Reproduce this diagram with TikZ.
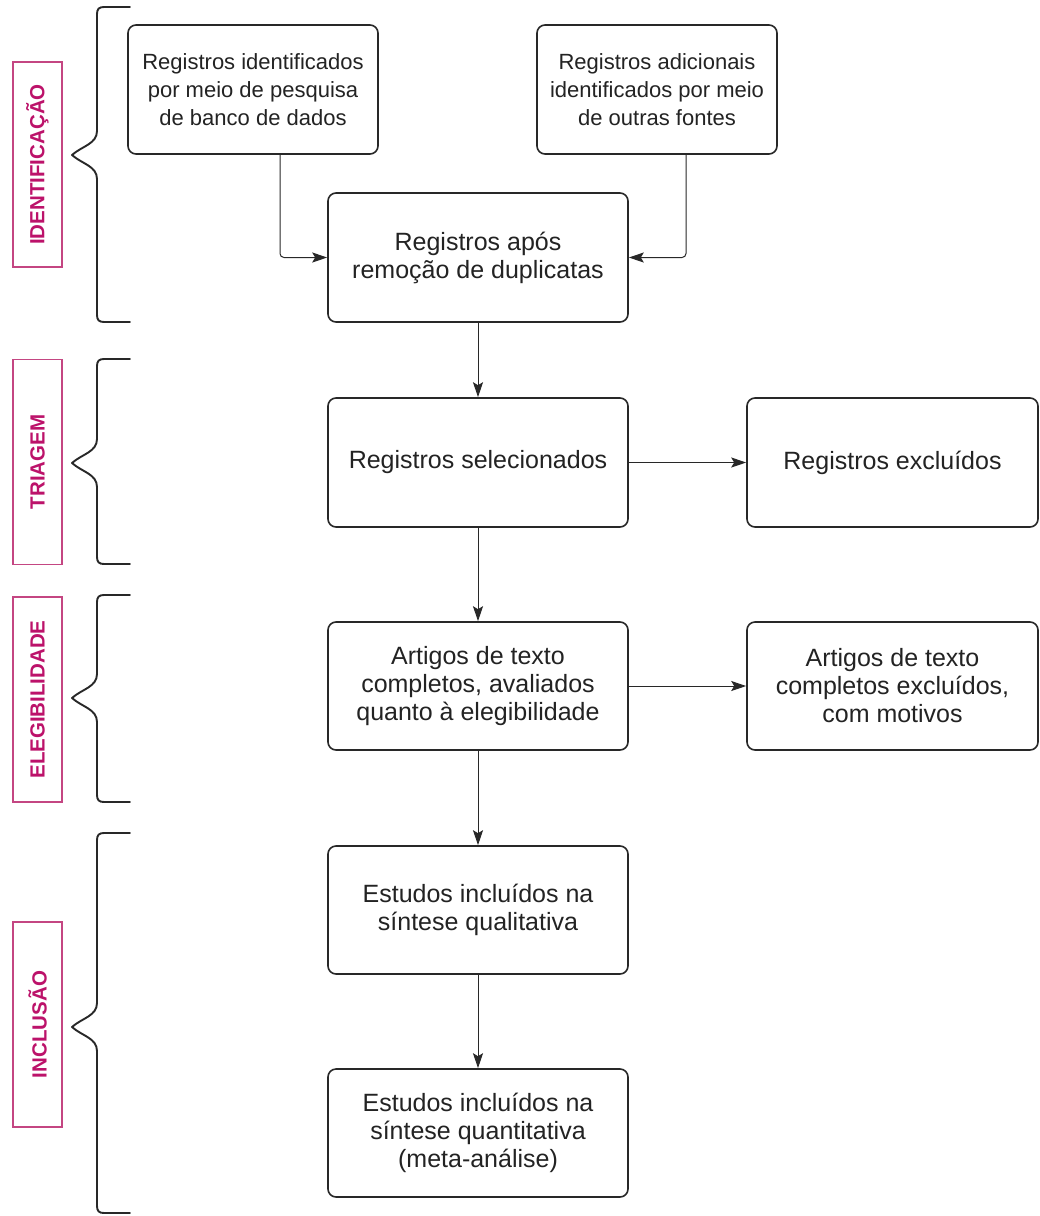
\documentclass[tikz,border=0pt]{standalone}
\usepackage{fontspec}
\setmainfont{Liberation Sans}
\usetikzlibrary{arrows.meta}
\definecolor{pinkt}{RGB}{188,18,106}
\definecolor{pinkb}{RGB}{196,70,130}
\definecolor{boxc}{RGB}{40,40,40}
\definecolor{txtc}{RGB}{35,35,35}
\tikzset{
  flowbox/.style={draw=boxc, line width=1.6pt, rounded corners=8pt, align=center,
    font=\fontsize{25}{28}\selectfont, text=txtc, inner sep=0pt, minimum height=129pt},
  smalltext/.style={font=\fontsize{22}{28}\selectfont},
  phase/.style={draw=pinkb, line width=1.5pt, text=pinkt, font=\bfseries\fontsize{20.5}{24}\selectfont,
    rotate=90, minimum width=205pt, minimum height=49pt, inner sep=0pt},
  arr/.style={-{Stealth[length=15pt,width=10pt,inset=3pt]}, line width=1pt, draw=boxc, rounded corners=4pt},
  bracepath/.style={line width=1.9pt, draw=boxc, line cap=round, line join=round}
}
\newcommand\phasebrace[3]{%
  \draw[bracepath] (130,#1) -- (104,#1) .. controls (99,#1) and (97,#1+2) .. (97,#1+7)
    -- (97,#3-24) .. controls (97,#3-11) and (82,#3-9) .. (72,#3)
    .. controls (82,#3+9) and (97,#3+11) .. (97,#3+24)
    -- (97,#2-7) .. controls (97,#2-2) and (99,#2) .. (104,#2) -- (130,#2);}
\begin{document}
\begin{tikzpicture}[x=1pt,y=-1pt]
\useasboundingbox[fill=white] (0,0) rectangle (1040,1216);

% phase labels
\node[phase] (lid) at (37.5,164.5) {IDENTIFICAÇÃO};
\node[phase] (ltr) at (37.5,462) {TRIAGEM};
\node[phase] (lel) at (37.5,699.5) {ELEGIBILIDADE};
\node[phase] (lin) at (37.5,1024.5) {INCLUSÃO};

% braces
\phasebrace{7}{322}{155}
\phasebrace{359}{564}{463}
\phasebrace{595}{802}{698}
\phasebrace{833}{1213}{1027}

% boxes
\node[flowbox, smalltext, minimum width=250pt] (A) at (253,89.5) {Registros identificados\\por meio de pesquisa\\de banco de dados};
\node[flowbox, smalltext, minimum width=240pt] (B) at (657,89.5) {Registros adicionais\\identificados por meio\\de outras fontes};
\node[flowbox, minimum width=300pt] (C) at (478,257.5) {Registros após\\remoção de duplicatas};
\node[flowbox, minimum width=300pt] (D) at (478,462.5) {Registros selecionados};
\node[flowbox, minimum width=291pt] (E) at (892.5,462.5) {Registros excluídos};
\node[flowbox, minimum width=300pt, minimum height=128pt] (F) at (478,686) {Artigos de texto\\completos, avaliados\\quanto à elegibilidade};
\node[flowbox, minimum width=291pt, minimum height=128pt] (G) at (892.5,686) {Artigos de texto\\completos excluídos,\\com motivos};
\node[flowbox, minimum width=300pt, minimum height=128pt] (H) at (478,910) {Estudos incluídos na\\síntese qualitativa};
\node[flowbox, minimum width=300pt, minimum height=128pt] (I) at (478,1133) {Estudos incluídos na\\síntese quantitativa\\(meta-análise)};

% connectors
\draw[arr] ([xshift=27pt]A.south) |- (C.west);
\draw[arr] ([xshift=29pt]B.south) |- (C.east);
\draw[arr] (C.south) -- (D.north);
\draw[arr] (D.east) -- (E.west);
\draw[arr] (D.south) -- (F.north);
\draw[arr] (F.east) -- (G.west);
\draw[arr] (F.south) -- (H.north);
\draw[arr] (H.south) -- (I.north);
\end{tikzpicture}
\end{document}
